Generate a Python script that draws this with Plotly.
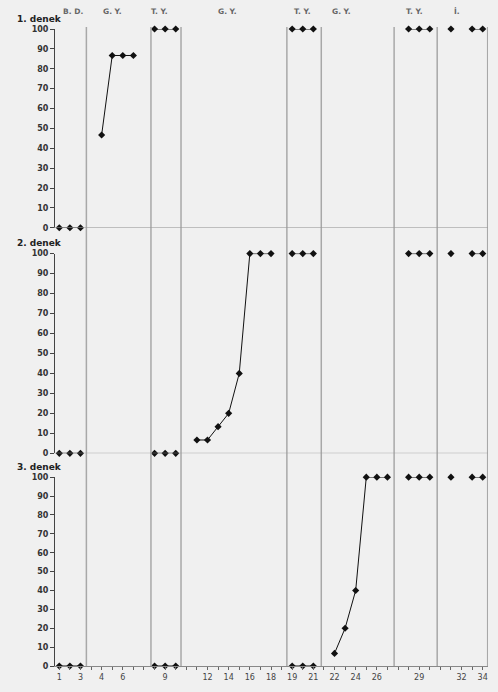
import plotly.graph_objects as go

# Session labels along the x axis; "" marks the blank slot at each phase change
sessions = ["1", "2", "3", "", "4", "5", "6", "7", "", "8", "9", "10", "",
            "11", "12", "13", "14", "15", "16", "17", "18", "",
            "19", "20", "21", "", "22", "23", "24", "25", "26", "27", "",
            "28", "29", "30", "", "31", "32", "33", "34"]

# Percentage of correct responses per slot (None = no session / no data)
N = None
denek_1 = [0, 0, 0, N, 46.67, 86.67, 86.67, 86.67, N, 100, 100, 100, N,
           N, N, N, N, N, N, N, N, N,
           100, 100, 100, N, N, N, N, N, N, N, N,
           100, 100, 100, N, 100, N, 100, 100]
denek_2 = [0, 0, 0, N, N, N, N, N, N, 0, 0, 0, N,
           6.67, 6.67, 13.33, 20, 40, 100, 100, 100, N,
           100, 100, 100, N, N, N, N, N, N, N, N,
           100, 100, 100, N, 100, N, 100, 100]
denek_3 = [0, 0, 0, N, N, N, N, N, N, 0, 0, 0, N,
           N, N, N, N, N, N, N, N, N,
           0, 0, 0, N, 6.67, 20, 40, 100, 100, 100, N,
           100, 100, 100, N, 100, N, 100, 100]

panel_titles = ["1. denek", "2. denek", "3. denek"]
phase_names = ["B. D.", "G. Y.", "T. Y.", "G. Y.", "T. Y.", "G. Y.", "T. Y.", "İ."]
phase_label_x = [2.3, 6.0, 10.5, 16.9, 24.0, 27.7, 34.6, 38.6]
phase_change_x = [3.56, 9.66, 12.5, 22.5, 25.75, 32.63, 36.7, 41.47]

y_ticks = list(range(0, 101, 10))
pos = list(range(1, len(sessions) + 1))

BG = "#f0f0f0"
FONT = "DejaVu Sans"

fig = go.Figure()
series = [denek_1, denek_2, denek_3]
yaxes = ["y", "y2", "y3"]
for vals, ya in zip(series, yaxes):
    fig.add_trace(go.Scatter(
        x=pos, y=vals, xaxis="x", yaxis=ya, mode="lines+markers",
        connectgaps=False, cliponaxis=False,
        line=dict(color="#111111", width=1),
        marker=dict(symbol="diamond", size=5.5, color="#111111"),
        showlegend=False, hoverinfo="skip",
    ))

domains = [[0.688, 1.0], [0.3339, 0.6474], [0.0, 0.2964]]
yaxis_common = dict(
    range=[0, 100], tickvals=y_ticks, ticks="outside", ticklen=4,
    tickcolor="#444", showline=True, linecolor="#444", linewidth=1,
    showgrid=False, zeroline=False, anchor="free", position=0,
    tickfont=dict(family=FONT, size=8, color="#333", weight="bold"),
)

layout = dict(
    width=498, height=692,
    margin=dict(l=54, r=10, t=29, b=22),
    paper_bgcolor=BG, plot_bgcolor=BG,
    xaxis=dict(
        range=[0.5, len(sessions) + 0.5], anchor="y3",
        tickvals=pos,
        ticktext=[s if i % 2 == 0 else "" for i, s in enumerate(sessions)],
        ticks="outside", ticklen=3, tickcolor="#666",
        showline=True, linecolor="#888", linewidth=1,
        showgrid=False, zeroline=False,
        tickfont=dict(family=FONT, size=8, color="#444"),
    ),
)
for i, (ya, dom) in enumerate(zip(yaxes, domains)):
    key = "yaxis" if i == 0 else f"yaxis{i + 1}"
    layout[key] = dict(yaxis_common, domain=dom)
fig.update_layout(**layout)

shapes = []
# Phase-change lines running through all three panels
for xc in phase_change_x:
    shapes.append(dict(type="line", xref="x", yref="paper", x0=xc, x1=xc,
                       y0=0, y1=1.003, line=dict(color="#a8a8a8", width=1.5)))
# Zero baselines of the upper two panels
for ya in ["y", "y2"]:
    shapes.append(dict(type="line", xref="paper", yref=ya, x0=0, x1=1,
                       y0=0, y1=0, line=dict(color="#999", width=1)))
fig.update_layout(shapes=shapes)

annotations = []
for name, xl in zip(phase_names, phase_label_x):
    annotations.append(dict(x=xl, y=1.028, xref="x", yref="paper", text=name,
                            showarrow=False, xanchor="center", yanchor="middle",
                            font=dict(family=FONT, size=7.5, color="#666", weight="bold")))
title_y_px = [19, 244, 470]
for title, py in zip(panel_titles, title_y_px):
    annotations.append(dict(x=-0.09, y=(670 - py) / 641, xref="paper", yref="paper",
                            text=title, showarrow=False, xanchor="left", yanchor="middle",
                            font=dict(family=FONT, size=9, color="#222", weight="bold")))
fig.update_layout(annotations=annotations)

fig.write_html("out.html")
